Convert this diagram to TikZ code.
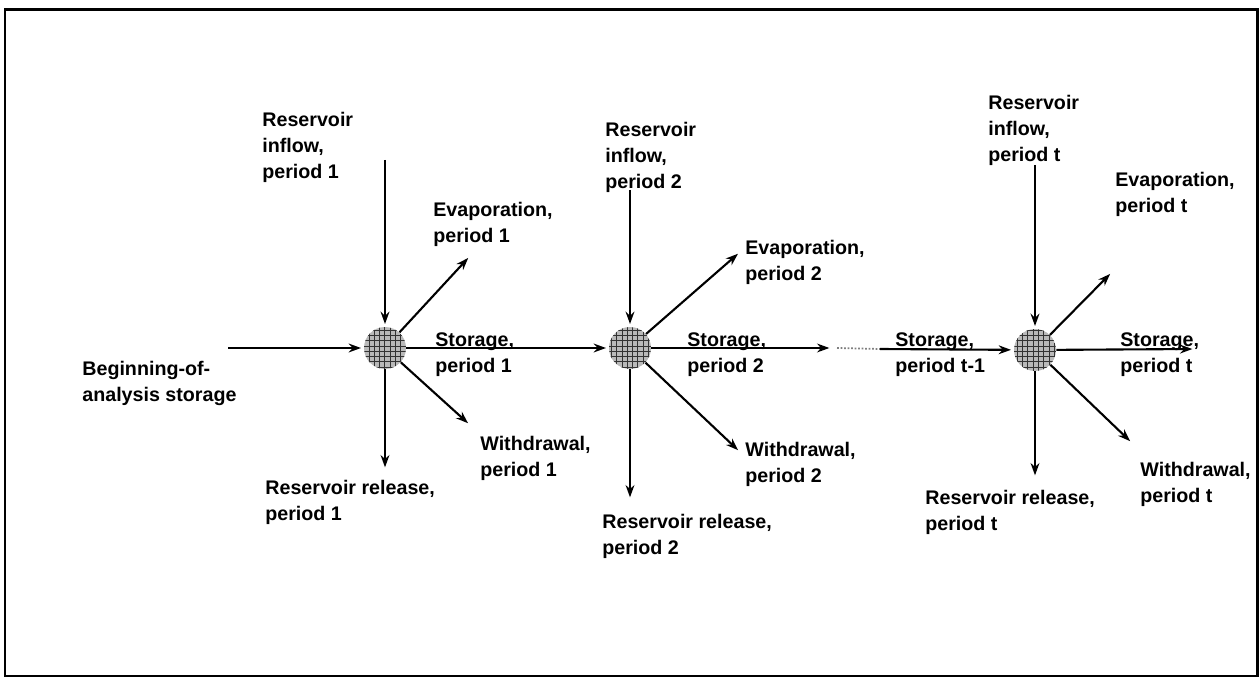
\documentclass[tikz,border=0pt]{standalone}
\usepackage{fontspec}
\setmainfont{Liberation Sans}
\usetikzlibrary{patterns,arrows.meta}
\tikzset{
  hub/.style={circle, inner sep=0pt, minimum size=0.84cm, fill=gray!55,
    postaction={pattern=grid, pattern color=black!80}},
  lbl/.style={anchor=north west, inner sep=0pt, align=left,
    font=\fontsize{11.2}{14.8}\selectfont\bfseries},
  flow/.style={->, line width=1.2pt, shorten >=1.5pt}
}
\begin{document}
\begin{tikzpicture}[>={Stealth[length=7pt,width=5pt]}, x=0.02cm, y=-0.02cm]
\useasboundingbox (0,0) rectangle (1260,678);
\draw[line width=1.7pt](5,10) rectangle (1257,676);
% storage nodes
\node[hub] (j1) at (385,348) {};
\node[hub] (j2) at (630,348) {};
\node[hub] (j3) at (1035,350) {};
% labels
\node[lbl] (begin) at (82,361) {Beginning-of-\\analysis storage};
\node[lbl] (in1) at (262,112) {Reservoir\\inflow,\\period 1};
\node[lbl] (ev1) at (433,202) {Evaporation,\\period 1};
\node[lbl] (st1) at (435,332) {Storage,\\period 1};
\node[lbl] (wd1) at (480,436) {Withdrawal,\\period 1};
\node[lbl] (rl1) at (265,480) {Reservoir release,\\period 1};
\node[lbl] (in2) at (605,122) {Reservoir\\inflow,\\period 2};
\node[lbl] (ev2) at (745,240) {Evaporation,\\period 2};
\node[lbl] (st2) at (687,332) {Storage,\\period 2};
\node[lbl] (wd2) at (745,442) {Withdrawal,\\period 2};
\node[lbl] (rl2) at (602,514) {Reservoir release,\\period 2};
\node[lbl] (stt) at (895,332) {Storage,\\period t-1};
\node[lbl] (in3) at (988,95) {Reservoir\\inflow,\\period t};
\node[lbl] (ev3) at (1115,172) {Evaporation,\\period t};
\node[lbl] (st3) at (1120,332) {Storage,\\period t};
\node[lbl] (wd3) at (1140,462) {Withdrawal,\\period t};
\node[lbl] (rl3) at (925,490) {Reservoir release,\\period t};
% free ends
\coordinate (b0) at (228,348);
\coordinate (i1) at (385,160);
\coordinate (e1) at (470,256);
\coordinate (w1) at (470,425);
\coordinate (r1) at (385,470);
\coordinate (i2) at (630,190);
\coordinate (e2) at (740,252);
\coordinate (w2) at (740,452);
\coordinate (r2) at (630,500);
\coordinate (d0) at (832,348);
\coordinate (d1) at (837,348);
\coordinate (d2) at (880,349);
\coordinate (i3) at (1035,165);
\coordinate (e3) at (1112,272);
\coordinate (s3) at (1195,349);
\coordinate (w3) at (1132,443);
\coordinate (r3) at (1035,478);
% period 1
\draw[flow](b0) -- (j1);
\draw[flow](i1) -- (j1);
\draw[flow](j1) -- (e1);
\draw[flow](j1) -- (w1);
\draw[flow](j1) -- (r1);
\draw[flow](j1) -- (j2);
% period 2
\draw[flow](i2) -- (j2);
\draw[flow](j2) -- (e2);
\draw[flow](j2) -- (w2);
\draw[flow](j2) -- (r2);
\draw[flow](j2) -- (d0);
\draw[gray, densely dotted, line width=1pt](d1) -- (d2);
\draw[flow](d2) -- (j3);
% period t
\draw[flow](i3) -- (j3);
\draw[flow](j3) -- (e3);
\draw[flow](j3) -- (s3);
\draw[flow](j3) -- (w3);
\draw[flow](j3) -- (r3);
\end{tikzpicture}
\end{document}
